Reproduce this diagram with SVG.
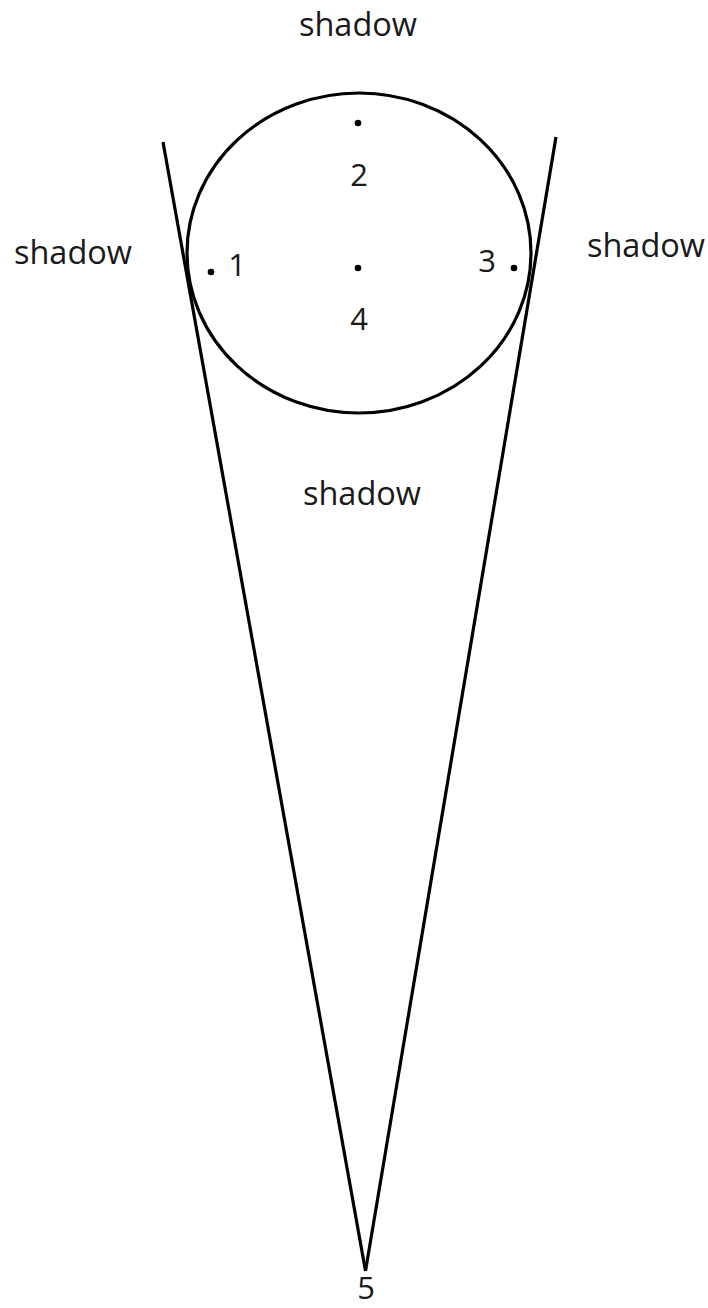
<svg xmlns="http://www.w3.org/2000/svg" width="708" height="1308" viewBox="0 0 708 1308">
<style>
.t{font-family:"Open Sans","Liberation Sans",sans-serif;font-size:31px;fill:#1a1a1a;text-anchor:middle}
.w{font-size:32.5px}
.s{fill:none;stroke:#000;stroke-width:3.2}
.d{fill:#000}
</style>
<rect width="708" height="1308" fill="#fff"/>
<g id="connectors">
<line class="s" x1="163" y1="142" x2="365.5" y2="1271"/>
<line class="s" x1="556" y1="137" x2="365.5" y2="1271"/>
</g>
<g id="ball">
<ellipse class="s" cx="359" cy="253" rx="172" ry="160"/>
</g>
<g id="p1"><circle class="d" cx="211" cy="272" r="3.3"/><text class="t" x="237" y="276">1</text></g>
<g id="p2"><circle class="d" cx="358" cy="123" r="3.3"/><text class="t" x="359" y="186">2</text></g>
<g id="p3"><circle class="d" cx="514" cy="268" r="3.3"/><text class="t" x="487" y="272">3</text></g>
<g id="p4"><circle class="d" cx="358" cy="268" r="3.3"/><text class="t" x="359" y="330">4</text></g>
<g id="p5"><text class="t" x="366" y="1299">5</text></g>
<g id="labels">
<text class="t w" x="358" y="36">shadow</text>
<text class="t w" x="73" y="264">shadow</text>
<text class="t w" x="646" y="257">shadow</text>
<text class="t w" x="362" y="505">shadow</text>
</g>
</svg>
